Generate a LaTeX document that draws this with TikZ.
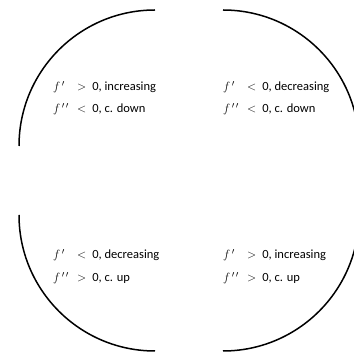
\documentclass[tikz,border=0pt]{standalone}
\usepackage{fontspec}
\setmainfont{Carlito}
\newcommand{\fpart}[1]{\makebox[24pt][l]{$f^{\,#1}$}}
\begin{document}
\begin{tikzpicture}[x=1pt,y=1pt,
  arcline/.style={line width=1.5pt},
  lbl/.style={anchor=base west,inner sep=0pt,font=\fontsize{12.5}{15}\selectfont}]
\useasboundingbox (0,0) rectangle (354,353);
\begin{scope}
\clip (0,0) rectangle (354,353);
\draw[arcline] (155,343) arc[start angle=90,end angle=180,radius=136];
\draw[arcline] (223,343) arc[start angle=90,end angle=0,radius=136];
\draw[arcline] (19,138) arc[start angle=180,end angle=270,radius=136];
\draw[arcline] (223,2) arc[start angle=270,end angle=360,radius=136];
\end{scope}
\node[lbl] (a1) at (53,262) {\fpart{\prime}$>$\hspace{6pt}0, increasing};
\node[lbl] (a2) at (53,240) {\fpart{\prime\,\prime}$<$\hspace{6pt}0, c. down};
\node[lbl] (b1) at (223,262) {\fpart{\prime}$<$\hspace{6pt}0, decreasing};
\node[lbl] (b2) at (223,240) {\fpart{\prime\,\prime}$<$\hspace{6pt}0, c. down};
\node[lbl] (c1) at (53,94) {\fpart{\prime}$<$\hspace{6pt}0, decreasing};
\node[lbl] (c2) at (53,71) {\fpart{\prime\,\prime}$>$\hspace{6pt}0, c. up};
\node[lbl] (d1) at (223,94) {\fpart{\prime}$>$\hspace{6pt}0, increasing};
\node[lbl] (d2) at (223,71) {\fpart{\prime\,\prime}$>$\hspace{6pt}0, c. up};
\end{tikzpicture}
\end{document}
